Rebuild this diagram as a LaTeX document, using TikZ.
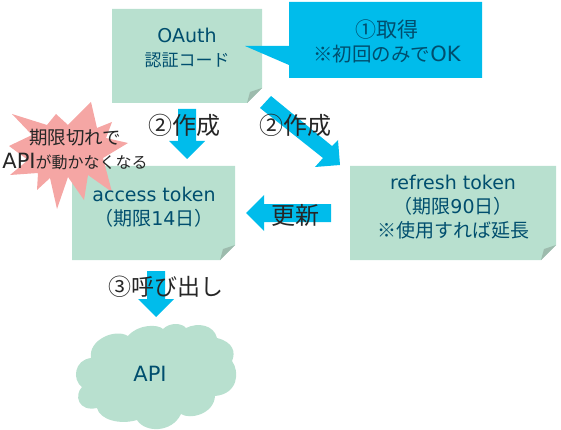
\documentclass[tikz,border=0pt]{standalone}
\usepackage{fontspec}
\setmainfont{DejaVu Sans}
\newfontfamily\jp{Noto Sans CJK JP}
\definecolor{boxc}{HTML}{B8E0CF}
\definecolor{foldc}{HTML}{9DBBAD}
\definecolor{arrowc}{HTML}{00BCEB}
\definecolor{inkc}{HTML}{004E6E}
\definecolor{darkc}{HTML}{262626}
\definecolor{starc}{HTML}{F5A6A4}
\tikzset{
 notefill/.style={fill=boxc,draw=none},
 foldfill/.style={fill=foldc,draw=none},
 arrowfill/.style={fill=arrowc,draw=none},
 inktext/.style={text=inkc,align=center,inner sep=0pt,font=\fontsize{19}{24}\selectfont},
 darktext/.style={text=darkc,align=center,inner sep=0pt,font=\fontsize{24}{28}\selectfont},
 startext/.style={text=darkc,align=center,inner sep=0pt,font=\fontsize{16}{24}\selectfont},
}
\begin{document}
\begin{tikzpicture}[x=1pt,y=-1pt]
\useasboundingbox (0,0) rectangle (561,430);
% notes
\fill[notefill] (112,9) -- (262,9) -- (262,88) -- (247,103) -- (112,103) -- cycle;
\fill[foldfill] (262,88) -- (247,103) -- (250,92) -- cycle;
\fill[notefill] (72,166) -- (235,166) -- (235,245) -- (220,260) -- (72,260) -- cycle;
\fill[foldfill] (235,245) -- (220,260) -- (223,249) -- cycle;
\fill[notefill] (350,166) -- (556,166) -- (556,245) -- (541,260) -- (350,260) -- cycle;
\fill[foldfill] (556,245) -- (541,260) -- (544,249) -- cycle;
% callout
\fill[arrowfill] (289,2) -- (482,2) -- (482,78) -- (289,78) -- (289,65) -- (245,46) -- (289,46) -- cycle;
% arrows
\fill[arrowfill] (178,109) -- (196,109) -- (196,141) -- (205,141) -- (187,159) -- (169,141) -- (178,141) -- cycle;
\fill[arrowfill] (271,96) -- (332,146) -- (338,140) -- (340,165) -- (315,167) -- (323,158) -- (260,108) -- cycle;
\fill[arrowfill] (331,204) -- (264,204) -- (264,195) -- (246,213) -- (264,231) -- (264,222) -- (331,222) -- cycle;
\fill[arrowfill] (147,271) -- (165,271) -- (165,299) -- (174,299) -- (156,317) -- (138,299) -- (147,299) -- cycle;
% star
\fill[starc] (91,102) -- (97,128) -- (112,122) -- (106,138) -- (128,143) -- (103,158) -- (112,192) -- (88,175) -- (84,200) -- (68,177) -- (57,209) -- (50,178) -- (37,190) -- (38,173) -- (10,175) -- (28,160) -- (9,146) -- (32,135) -- (12,114) -- (47,125) -- (56,114) -- (68,125) -- cycle;
% cloud
\fill[boxc] (91,358) .. controls (88,340) and (115,328) .. (128,336)
 .. controls (138,324) and (158,324) .. (163,329)
 .. controls (170,322) and (182,323) .. (186,328)
 .. controls (198,322) and (214,325) .. (217,338)
 .. controls (233,342) and (236,352) .. (232,361)
 .. controls (240,372) and (238,394) .. (215,396)
 .. controls (214,414) and (190,420) .. (181,414)
 .. controls (172,433) and (145,433) .. (137,420)
 .. controls (120,425) and (100,420) .. (97,408)
 .. controls (78,412) and (74,395) .. (82,387)
 .. controls (72,380) and (74,360) .. (91,358) -- cycle;
% text
\node[inktext] (oauth) at (187,48) {OAuth\\{\jp\fontsize{17}{23}\selectfont 認証コード}};
\node[inktext] (get) at (387,41) {{\jp\fontsize{21}{26}\selectfont ①取得}\\{\jp\fontsize{19.5}{26}\selectfont ※初回のみで}{\fontsize{21}{26}\selectfont OK}};
\node[inktext] (acc) at (154,207) {access token\\{\jp（期限}14{\jp 日）}};
\node[inktext] (ref) at (453,207) {refresh token\\{\jp（期限}90{\jp 日）}\\{\jp ※使用すれば延長}};
\node[inktext,font=\fontsize{21}{24}\selectfont] (api) at (150,374) {API};
\node[darktext] (l1) at (184,125) {\jp ②作成};
\node[darktext] (l2) at (295,125) {\jp ②作成};
\node[darktext] (l3) at (295,215) {\jp 更新};
\node[darktext,font=\fontsize{23}{28}\selectfont] (l4) at (166,287) {\jp ③呼び出し};
\node[startext] (s) at (75,150) {{\jp\fontsize{18.5}{24}\selectfont 期限切れで}\\{\fontsize{21}{24}\selectfont API}{\jp が動かなくなる}};
\end{tikzpicture}
\end{document}
